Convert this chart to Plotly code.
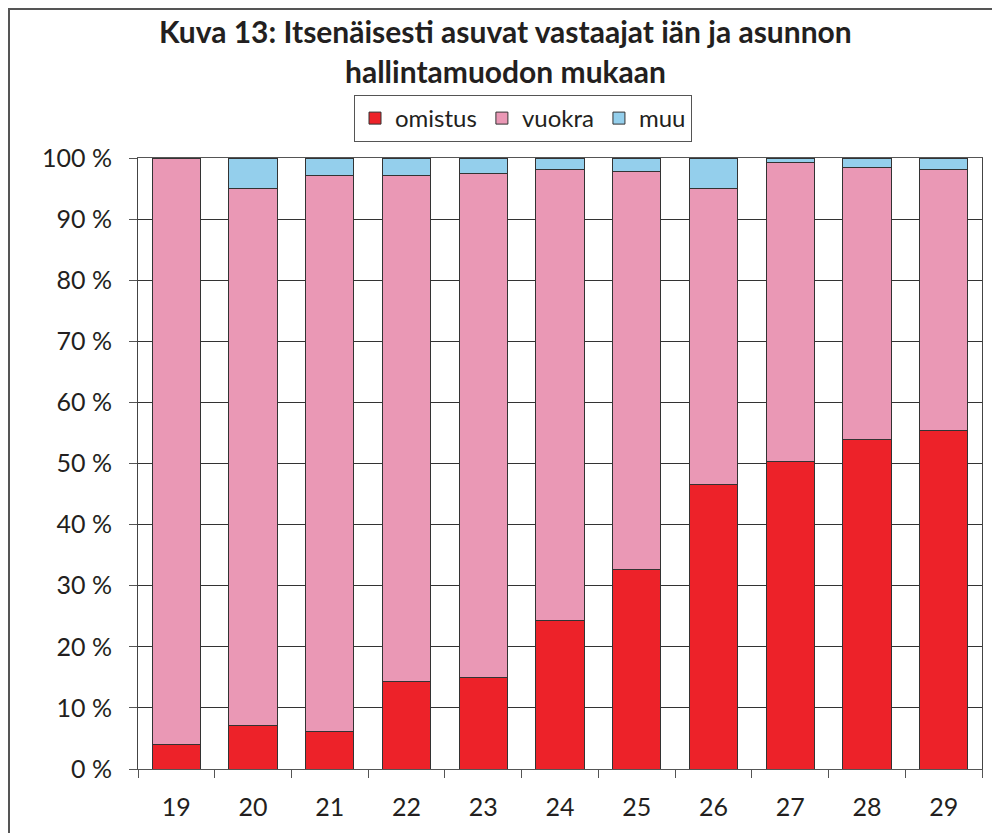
import plotly.graph_objects as go

ages = ["19", "20", "21", "22", "23", "24", "25", "26", "27", "28", "29"]
omistus = [4.0, 7.2, 6.2, 14.3, 15.0, 24.3, 32.7, 46.5, 50.4, 54.0, 55.4]
vuokra_top = [100.0, 95.0, 97.1, 97.1, 97.4, 98.2, 97.8, 95.0, 99.2, 98.4, 98.2]
vuokra = [round(t - o, 1) for t, o in zip(vuokra_top, omistus)]
muu = [round(100 - t, 1) for t in vuokra_top]
y_ticks = [0, 10, 20, 30, 40, 50, 60, 70, 80, 90, 100]
y_labels = [f"{v} %" for v in y_ticks]

FONT = "Lato"
TXT = "#231f20"
line = dict(color="#333333", width=1)

# figure is placed at (8, 8) in the page; coordinates below are in figure pixels
W, H = 992, 825
L, R, T, B = 130, 18, 150, 64
PW, PH = W - L - R, H - T - B


def px(x):
    return (x - L) / PW


def py(y):
    return (H - B - y) / PH


fig = go.Figure()
fig.add_trace(go.Bar(name="omistus", x=ages, y=omistus, marker=dict(color="#ED2229", line=line)))
fig.add_trace(go.Bar(name="vuokra", x=ages, y=vuokra, marker=dict(color="#EA98B5", line=line)))
fig.add_trace(go.Bar(name="muu", x=ages, y=muu, marker=dict(color="#94CFEC", line=line)))

fig.update_layout(
    width=W, height=H,
    barmode="stack", bargap=0.37,
    margin=dict(l=L, r=R, t=T, b=B),
    paper_bgcolor="white", plot_bgcolor="white",
    font=dict(family=FONT, color=TXT, size=24),
    showlegend=True,
    legend=dict(orientation="h", x=px(515), xanchor="center", y=py(87), yanchor="top",
                bordercolor="#555555", borderwidth=1, font=dict(size=24, family=FONT, color=TXT),
                itemwidth=30, traceorder="normal", itemclick=False),
    annotations=[
        dict(text="<b>Kuva 13: Itsenäisesti asuvat vastaajat iän ja asunnon</b>", xref="paper", yref="paper",
             x=px(497), y=py(23), xanchor="center", yanchor="middle", showarrow=False,
             font=dict(size=30, family=FONT, color=TXT)),
        dict(text="<b>hallintamuodon mukaan</b>", xref="paper", yref="paper",
             x=px(497), y=py(63), xanchor="center", yanchor="middle", showarrow=False,
             font=dict(size=30, family=FONT, color=TXT)),
    ],
    shapes=[
        dict(type="rect", xref="paper", yref="paper",
             x0=px(1), x1=px(W + 20), y0=py(H + 20), y1=py(1),
             line=dict(color="#555555", width=2), fillcolor="rgba(0,0,0,0)", layer="below"),
    ],
)
fig.update_xaxes(type="category", tickson="boundaries", ticks="outside", ticklen=8, tickcolor="#555555",
                 showline=True, linecolor="#555555", linewidth=1, mirror=True, showgrid=False,
                 tickfont=dict(size=25, family=FONT, color=TXT), ticklabelstandoff=16)
fig.update_yaxes(range=[0, 100], tickvals=y_ticks, ticktext=y_labels, ticks="outside", ticklen=8,
                 tickcolor="#555555", showline=True, linecolor="#444444", linewidth=1, mirror=True,
                 showgrid=True, gridcolor="#333333", gridwidth=1, zeroline=False,
                 tickfont=dict(size=25, family=FONT, color=TXT), ticklabelstandoff=12)

fig.write_html("out.html")
